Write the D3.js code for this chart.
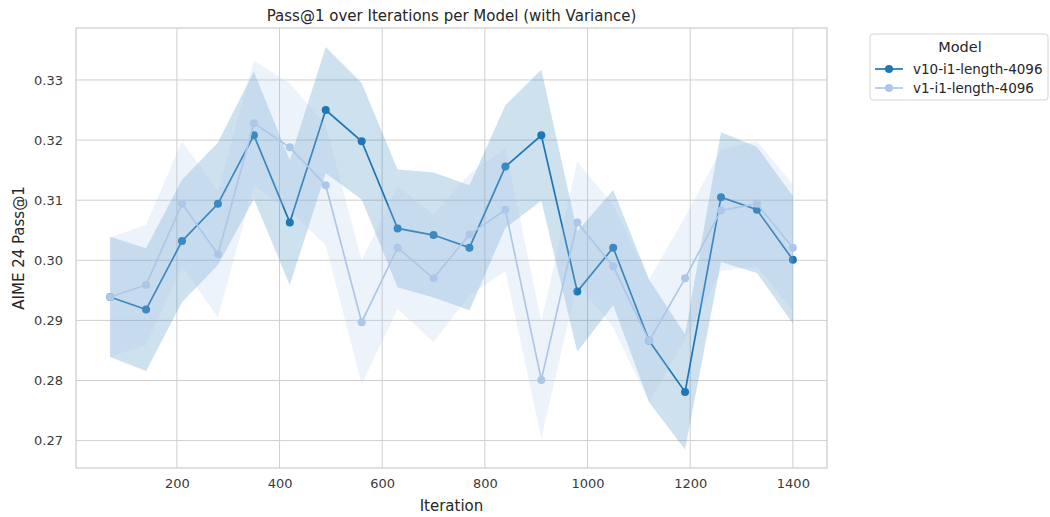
<!DOCTYPE html>
<html>
<head>
<meta charset="utf-8">
<script src="https://cdn.jsdelivr.net/npm/d3@7"></script>
<style>
  body { margin: 0; background: #fff; }
  svg { font-family: "DejaVu Sans", sans-serif; }
</style>
</head>
<body>
<svg class="chart" width="1050" height="517"></svg>
<script>
const iterations = [70, 140, 210, 280, 350, 420, 490, 560, 630, 700, 770, 840, 910, 980, 1050, 1120, 1190, 1260, 1330, 1400];

const modelNames = ["v10-i1-length-4096", "v1-i1-length-4096"];

const v10Mean = [0.2939, 0.2918, 0.3032, 0.3094, 0.3208, 0.3063, 0.3250, 0.3198, 0.3053, 0.3042,
                 0.3021, 0.3156, 0.3208, 0.2948, 0.3021, 0.2866, 0.2781, 0.3105, 0.3084, 0.3001];
const v10Std = [0.0100, 0.0102, 0.0102, 0.0102, 0.0106, 0.0104, 0.0105, 0.0097, 0.0098, 0.0104,
                0.0104, 0.0102, 0.0109, 0.0100, 0.0096, 0.0102, 0.0096, 0.0108, 0.0105, 0.0106];

const v1Mean = [0.2939, 0.2959, 0.3094, 0.3010, 0.3228, 0.3188, 0.3125, 0.2897, 0.3021, 0.2970,
                0.3043, 0.3084, 0.2801, 0.3063, 0.2990, 0.2866, 0.2970, 0.3083, 0.3094, 0.3021];
const v1Std = [0.0099, 0.0100, 0.0104, 0.0105, 0.0104, 0.0106, 0.0100, 0.0103, 0.0102, 0.0106,
               0.0101, 0.0102, 0.0097, 0.0101, 0.0102, 0.0102, 0.0102, 0.0101, 0.0104, 0.0105];

const yTicks = [0.27, 0.28, 0.29, 0.30, 0.31, 0.32, 0.33];
const xTicks = [200, 400, 600, 800, 1000, 1200, 1400];

const colors = ["#1f77b4", "#aec7e8"];

const series = [
  { name: modelNames[0], mean: v10Mean, std: v10Std, color: colors[0] },
  { name: modelNames[1], mean: v1Mean, std: v1Std, color: colors[1] }
];

const svg = d3.select(".chart");
const margin = { left: 76, right: 223, top: 28, bottom: 49 };
const width = 1050 - margin.left - margin.right;
const height = 517 - margin.top - margin.bottom;

const x = d3.scaleLinear().domain([3.5, 1466.5]).range([0, width]);
const y = d3.scaleLinear().domain([0.26544, 0.33865]).range([height, 0]);

const g = svg.append("g").attr("transform", `translate(${margin.left},${margin.top})`);

// grid
g.append("g")
  .selectAll("line")
  .data(xTicks)
  .join("line")
  .attr("x1", (d) => x(d)).attr("x2", (d) => x(d))
  .attr("y1", 0).attr("y2", height)
  .attr("stroke", "#cfcfcf").attr("stroke-width", 1);

g.append("g")
  .selectAll("line")
  .data(yTicks)
  .join("line")
  .attr("x1", 0).attr("x2", width)
  .attr("y1", (d) => y(d)).attr("y2", (d) => y(d))
  .attr("stroke", "#cfcfcf").attr("stroke-width", 1);

// series: line + markers, then band
const area = d3.area()
  .x((d) => x(d.x))
  .y0((d) => y(d.m - d.s))
  .y1((d) => y(d.m + d.s));

const line = d3.line().x((d) => x(d.x)).y((d) => y(d.m));

series.forEach((s) => {
  const pts = iterations.map((it, i) => ({ x: it, m: s.mean[i], s: s.std[i] }));

  g.append("path")
    .datum(pts)
    .attr("d", line)
    .attr("fill", "none")
    .attr("stroke", s.color)
    .attr("stroke-width", 1.7);

  g.append("g")
    .selectAll("circle")
    .data(pts)
    .join("circle")
    .attr("cx", (d) => x(d.x))
    .attr("cy", (d) => y(d.m))
    .attr("r", 4)
    .attr("fill", s.color);

  g.append("path")
    .datum(pts)
    .attr("d", area)
    .attr("fill", s.color)
    .attr("fill-opacity", 0.22)
    .attr("stroke", "none");
});

// frame
g.append("rect")
  .attr("width", width).attr("height", height)
  .attr("fill", "none")
  .attr("stroke", "#cccccc")
  .attr("stroke-width", 1.25);

// axes
const xAxis = g.append("g")
  .attr("transform", `translate(0,${height})`)
  .call(d3.axisBottom(x).tickValues(xTicks).tickSize(0).tickPadding(11).tickFormat(d3.format("d")));
const yAxis = g.append("g")
  .call(d3.axisLeft(y).tickValues(yTicks).tickSize(0).tickPadding(13).tickFormat(d3.format(".2f")));

[xAxis, yAxis].forEach((a) => {
  a.select(".domain").remove();
  a.selectAll("text")
    .attr("fill", "#3a3a3a")
    .style("font-size", "13px")
    .style("font-family", "DejaVu Sans");
});

// labels
svg.append("text")
  .attr("x", margin.left + width / 2)
  .attr("y", 20.5)
  .attr("text-anchor", "middle")
  .attr("fill", "#262626")
  .style("font-size", "15px")
  .text("Pass@1 over Iterations per Model (with Variance)");

svg.append("text")
  .attr("x", margin.left + width / 2)
  .attr("y", 510.5)
  .attr("text-anchor", "middle")
  .attr("fill", "#262626")
  .style("font-size", "15px")
  .text("Iteration");

svg.append("text")
  .attr("transform", `translate(24,${margin.top + height / 2}) rotate(-90)`)
  .attr("text-anchor", "middle")
  .attr("fill", "#262626")
  .style("font-size", "15px")
  .text("AIME 24 Pass@1");

// legend
const legend = svg.append("g").attr("transform", "translate(870,34)");
legend.append("rect")
  .attr("width", 178).attr("height", 66)
  .attr("rx", 3)
  .attr("fill", "#fff")
  .attr("stroke", "#d5d5d5");

legend.append("text")
  .attr("x", 90).attr("y", 18)
  .attr("text-anchor", "middle")
  .attr("fill", "#262626")
  .style("font-size", "14.5px")
  .text("Model");

const entry = legend.selectAll(".entry")
  .data(series)
  .join("g")
  .attr("class", "entry")
  .attr("transform", (d, i) => `translate(0,${35 + i * 19})`);

entry.append("line")
  .attr("x1", 5).attr("x2", 33)
  .attr("stroke", (d) => d.color)
  .attr("stroke-width", 1.7);
entry.append("circle")
  .attr("cx", 19).attr("r", 4)
  .attr("fill", (d) => d.color);
entry.append("text")
  .attr("x", 43).attr("dy", "0.35em")
  .attr("fill", "#262626")
  .style("font-size", "13.5px")
  .text((d) => d.name);
</script>
</body>
</html>
